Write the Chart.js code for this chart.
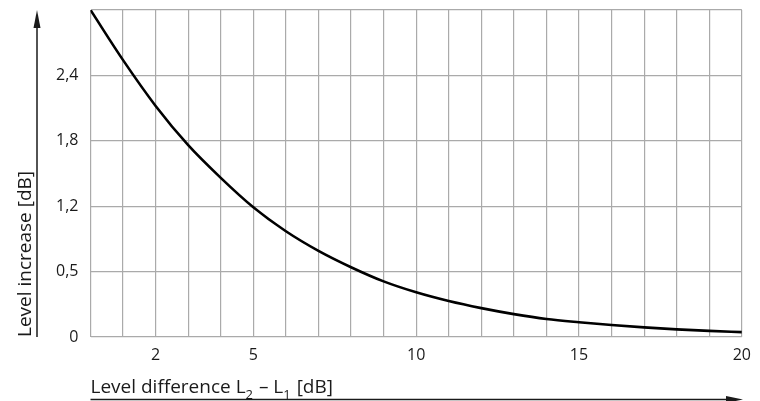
<!DOCTYPE html>
<html>
<head>
<meta charset="utf-8">
<script src="https://cdn.jsdelivr.net/npm/chart.js@4"></script>
<style>
  html, body { margin: 0; padding: 0; background: #fff; }
  #wrap { width: 760px; height: 401px; }
</style>
</head>
<body>
<div id="wrap"><canvas id="levelchart" width="760" height="401"></canvas></div>
<script>
// level difference L2 - L1 [dB]
var differences = [0, 1, 2, 3, 4, 5, 6, 7, 8, 9, 10, 11, 12, 13, 14, 15, 16, 17, 18, 19, 20];
// level increase [dB]
var increases = [3.0, 2.54, 2.12, 1.76, 1.46, 1.19, 0.97, 0.79, 0.64, 0.51, 0.41, 0.33, 0.265, 0.21, 0.165, 0.135, 0.11, 0.088, 0.07, 0.056, 0.045];

var xticklabels = { 2: '2', 5: '5', 10: '10', 15: '15', 20: '20' };
var yticklabels = ['0', '0,5', '1,2', '1,8', '2,4', ''];

var police = '"Open Sans", "Noto Sans", sans-serif';

var points = differences.map((d, i) => ({ x: d, y: increases[i] }));

// axis titles with arrows, drawn outside the plot
var axistitles = {
  id: 'axistitles',
  afterDraw: function(chart) {
    var ctx = chart.ctx;
    var area = chart.chartArea;
    ctx.save();
    ctx.fillStyle = '#1a1a1a';
    ctx.strokeStyle = '#1a1a1a';
    ctx.lineWidth = 1.5;

    // y arrow
    ctx.beginPath();
    ctx.moveTo(37, area.bottom);
    ctx.lineTo(37, 26);
    ctx.stroke();
    ctx.beginPath();
    ctx.moveTo(37, 10);
    ctx.lineTo(33.5, 28);
    ctx.lineTo(40.5, 28);
    ctx.closePath();
    ctx.fill();

    // x arrow
    ctx.beginPath();
    ctx.moveTo(area.left, 399.5);
    ctx.lineTo(728, 399.5);
    ctx.stroke();
    ctx.beginPath();
    ctx.moveTo(743, 399.5);
    ctx.lineTo(726, 396);
    ctx.lineTo(726, 403);
    ctx.closePath();
    ctx.fill();

    // y title
    ctx.font = '19px ' + police;
    ctx.textAlign = 'left';
    ctx.textBaseline = 'alphabetic';
    ctx.save();
    ctx.translate(31, area.bottom);
    ctx.rotate(-Math.PI / 2);
    ctx.fillText('Level increase [dB]', 0, 0);
    ctx.restore();

    // x title with subscripts
    var parts = [['Level difference L', false], ['2', true], [' \u2013 L', false], ['1', true], [' [dB]', false]];
    var x = area.left;
    parts.forEach(function(p) {
      ctx.font = (p[1] ? '13px ' : '19px ') + police;
      ctx.fillText(p[0], x, p[1] ? 399 : 393);
      x += ctx.measureText(p[0]).width + (p[1] ? 1 : 0);
    });
    ctx.restore();
  }
};

var data = {
  datasets: [{
    label: 'Level increase',
    data: points,
    borderColor: '#000',
    borderWidth: 2.6,
    pointRadius: 0,
    fill: false,
    cubicInterpolationMode: 'monotone'
  }]
};

var config = {
  type: 'line',
  data: data,
  options: {
    responsive: false,
    animation: false,
    layout: { padding: { top: 10, right: 17, left: 0, bottom: 0 } },
    scales: {
      x: {
        type: 'linear',
        min: 0,
        max: 20,
        ticks: {
          stepSize: 1,
          autoSkip: false,
          maxRotation: 0,
          padding: 9,
          color: '#1a1a1a',
          font: { family: police, size: 16 },
          callback: v => xticklabels[v] || ''
        },
        grid: { color: '#aaaaaa', lineWidth: 1.2, drawTicks: false },
        border: { display: false },
        afterFit: function(scale) { scale.height = 64; }
      },
      y: {
        min: 0,
        max: 3,
        ticks: {
          stepSize: 0.6,
          padding: 12,
          color: '#1a1a1a',
          font: { family: police, size: 16 },
          callback: (v, i) => yticklabels[i]
        },
        grid: { color: '#aaaaaa', lineWidth: 1.2, drawTicks: false },
        border: { display: false },
        afterFit: function(scale) { scale.width = 90.5; scale.paddingTop = 0; }
      }
    },
    plugins: {
      legend: { display: false },
      tooltip: { enabled: false }
    }
  },
  plugins: [axistitles]
};

var levelctx = document.getElementById('levelchart').getContext('2d');
var levelchart = new Chart(levelctx, config);
</script>
</body>
</html>
